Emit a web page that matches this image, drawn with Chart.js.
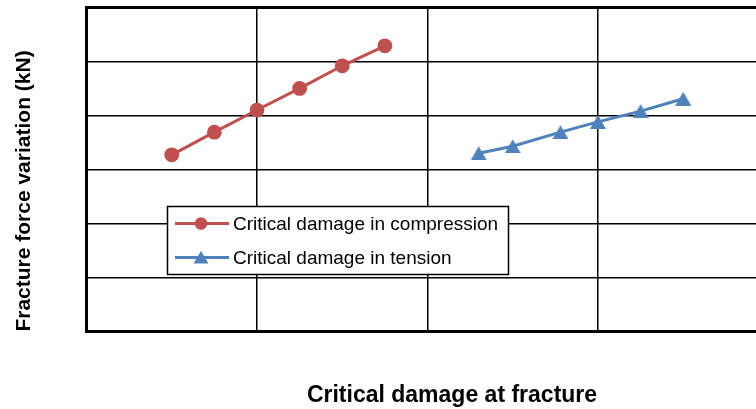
<!DOCTYPE html>
<html>
<head>
<meta charset="utf-8">
<script src="https://cdn.jsdelivr.net/npm/chart.js@4/dist/chart.umd.min.js"></script>
<style>
  html, body { margin: 0; padding: 0; background: #fff; overflow: hidden; }
  #wrap { position: relative; width: 820px; height: 409px; }
</style>
</head>
<body>
<div id="wrap"><canvas id="c"></canvas></div>
<script>
// ---- data ----
const seriesNames = ['Critical damage in compression', 'Critical damage in tension'];
const compressionX = [0.5, 0.75, 1.0, 1.25, 1.5, 1.75];
const compressionY = [3.27, 3.69, 4.10, 4.50, 4.92, 5.29];
const tensionX = [2.30, 2.50, 2.78, 3.00, 3.25, 3.50];
const tensionY = [3.30, 3.43, 3.69, 3.88, 4.08, 4.31];
const xTicks = [0, 1, 2, 3, 4];
const yTicks = [0, 1, 2, 3, 4, 5, 6];
const xTitle = 'Critical damage at fracture';
const yTitle = 'Fracture force variation (kN)';

const RED = '#C0504D';
const BLUE = '#4F81BD';

const toPts = (xs, ys) => xs.map((x, i) => ({ x: x, y: ys[i] }));

// triangle marker centred on its bounding box (like the spreadsheet marker)
function triangleMarker(w, h, color) {
  const cv = document.createElement('canvas');
  cv.width = w; cv.height = h;
  const c = cv.getContext('2d');
  c.fillStyle = color;
  c.beginPath();
  c.moveTo(w / 2, 0);
  c.lineTo(w, h);
  c.lineTo(0, h);
  c.closePath();
  c.fill();
  return cv;
}
const triImg = triangleMarker(16, 14, BLUE);

const legendPlugin = {
  id: 'boxLegend',
  afterDatasetsDraw(chart) {
    const ctx = chart.ctx;
    const bx = 167.5, by = 206.5, bw = 341, bh = 68;
    ctx.save();
    ctx.fillStyle = '#fff';
    ctx.fillRect(bx, by, bw, bh);
    ctx.strokeStyle = '#000';
    ctx.lineWidth = 1.5;
    ctx.strokeRect(bx, by, bw, bh);
    const rows = [223.5, 257.5];
    chart.data.datasets.forEach((ds, i) => {
      const y = rows[i];
      ctx.strokeStyle = ds.borderColor;
      ctx.lineWidth = 3;
      ctx.beginPath();
      ctx.moveTo(175, y);
      ctx.lineTo(229, y);
      ctx.stroke();
      ctx.fillStyle = ds.borderColor;
      ctx.beginPath();
      if (i === 1) {
        ctx.moveTo(201, y - 6.5);
        ctx.lineTo(208.5, y + 6);
        ctx.lineTo(193.5, y + 6);
        ctx.closePath();
      } else {
        ctx.arc(201, y, 6.3, 0, Math.PI * 2);
      }
      ctx.fill();
      ctx.fillStyle = '#000';
      ctx.font = "19px 'Liberation Sans'";
      ctx.textAlign = 'left';
      ctx.textBaseline = 'middle';
      ctx.fillText(ds.label, 233, y + 1);
    });
    ctx.restore();
  },
  afterDraw(chart) {
    const ctx = chart.ctx;
    ctx.save();
    ctx.fillStyle = '#000';
    ctx.textAlign = 'center';
    ctx.textBaseline = 'middle';
    ctx.font = "bold 23px 'Liberation Sans'";
    ctx.fillText(xTitle, 452, 396);
    ctx.font = "bold 21px 'Liberation Sans'";
    ctx.translate(24, 191);
    ctx.rotate(-Math.PI / 2);
    ctx.fillText(yTitle, 0, 0);
    ctx.restore();
  }
};

new Chart(document.getElementById('c'), {
  type: 'line',
  data: {
    datasets: [
      {
        label: seriesNames[0],
        data: toPts(compressionX, compressionY),
        borderColor: RED, backgroundColor: RED,
        pointBackgroundColor: RED, pointBorderColor: RED,
        borderWidth: 3, pointRadius: 7.4, pointBorderWidth: 0,
        pointStyle: 'circle', tension: 0
      },
      {
        label: seriesNames[1],
        data: toPts(tensionX, tensionY),
        borderColor: BLUE, backgroundColor: BLUE,
        pointBackgroundColor: BLUE, pointBorderColor: BLUE,
        borderWidth: 3, pointRadius: 8, pointBorderWidth: 0,
        pointStyle: triImg, tension: 0
      }
    ]
  },
  options: {
    responsive: true,
    maintainAspectRatio: false,
    animation: false,
    layout: { autoPadding: false, padding: { left: 86.5, top: 7.5, right: 17.4, bottom: 77.7 } },
    plugins: { legend: { display: false }, tooltip: { enabled: false } },
    scales: {
      x: {
        type: 'linear', min: 0, max: 4.2,
        afterBuildTicks: (s) => { s.ticks = xTicks.map(v => ({ value: v })); },
        ticks: { display: false },
        grid: { color: '#000', lineWidth: 1.5, drawTicks: false },
        border: { color: '#000', width: 3 }
      },
      y: {
        type: 'linear', min: 0, max: 6,
        afterBuildTicks: (s) => { s.ticks = yTicks.map(v => ({ value: v })); },
        ticks: { display: false },
        grid: {
          color: '#000', drawTicks: false,
          lineWidth: (c) => (c.tick && c.tick.value === 6 ? 3 : 1.5)
        },
        border: { color: '#000', width: 3 }
      }
    }
  },
  plugins: [legendPlugin]
});
</script>
</body>
</html>
